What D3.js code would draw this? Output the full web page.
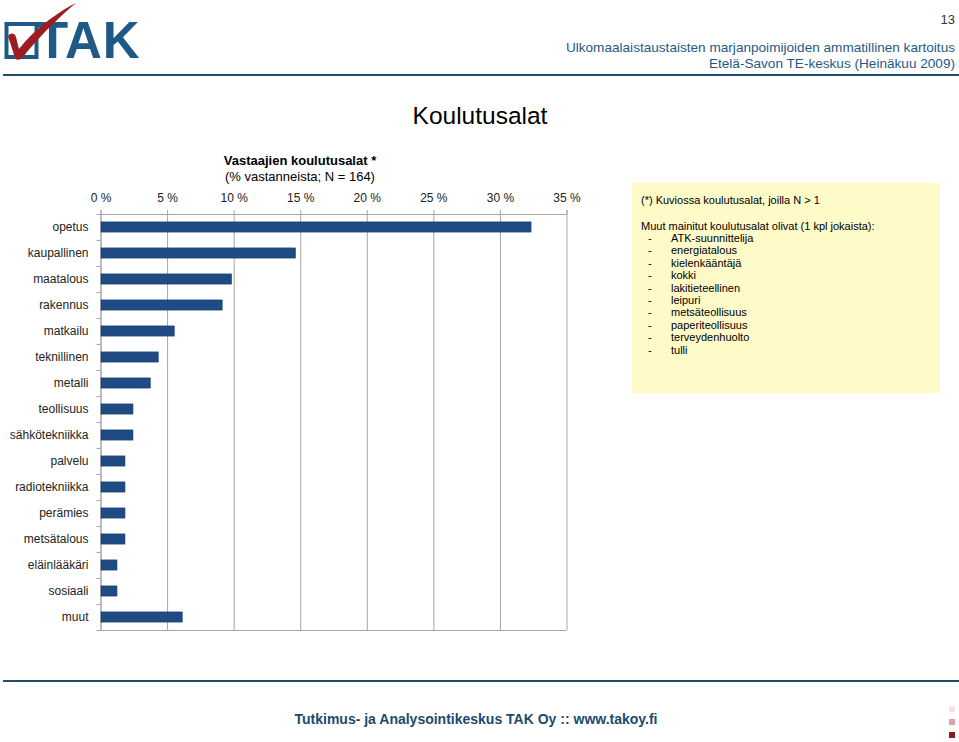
<!DOCTYPE html>
<html>
<head>
<meta charset="utf-8">
<script src="https://cdn.jsdelivr.net/npm/d3@7/dist/d3.min.js"></script>
<style>
  html, body { margin: 0; padding: 0; background: #fff; }
  svg { display: block; font-family: "Liberation Sans", Arial, sans-serif; }
</style>
</head>
<body>
<svg id="chart" width="959" height="742"></svg>
<script>
// ---- data ----
const categories = ["opetus","kaupallinen","maatalous","rakennus","matkailu","teknillinen","metalli","teollisuus","sähkötekniikka","palvelu","radiotekniikka","perämies","metsätalous","eläinlääkäri","sosiaali","muut"];
const values = [32.3, 14.6, 9.8, 9.1, 5.5, 4.3, 3.7, 2.4, 2.4, 1.8, 1.8, 1.8, 1.8, 1.2, 1.2, 6.1];
const tickValues = [0, 5, 10, 15, 20, 25, 30, 35];
const noteLines = ["ATK-suunnittelija","energiatalous","kielenkääntäjä","kokki","lakitieteellinen","leipuri","metsäteollisuus","paperiteollisuus","terveydenhuolto","tulli"];

const svg = d3.select("#chart");
const blue = "#1f5a87";

// ---- header ----
// logo
const logo = svg.append("g");
logo.append("rect").attr("x", 6.5).attr("y", 24).attr("width", 30).attr("height", 33)
  .attr("fill", "none").attr("stroke", blue).attr("stroke-width", 4);
logo.append("text").attr("x", 37).attr("y", 58).attr("font-size", 51).attr("font-weight", "bold")
  .attr("fill", blue).attr("letter-spacing", -0.5).attr("textLength", 102).text("TAK");
logo.append("path")
  .attr("d", "M8,36 C11,32 15,33 16,37 L19,49 C32,32 52,16 72,5 L76,3 C58,18 38,38 23,57 C21,60 17,61 15,58 Z")
  .attr("fill", "#9e1b1f");

svg.append("text").attr("x", 955).attr("y", 24).attr("text-anchor", "end")
  .attr("font-size", 13).attr("fill", "#333").text("13");
svg.append("text").attr("x", 955).attr("y", 52).attr("text-anchor", "end")
  .attr("font-size", 13.6).attr("fill", blue).text("Ulkomaalaistaustaisten marjanpoimijoiden ammatillinen kartoitus");
svg.append("text").attr("x", 955).attr("y", 68).attr("text-anchor", "end")
  .attr("font-size", 13.6).attr("fill", blue).text("Etelä-Savon TE-keskus (Heinäkuu 2009)");
svg.append("rect").attr("x", 3).attr("y", 74).attr("width", 956).attr("height", 2).attr("fill", "#1d4f6c");

// ---- titles ----
svg.append("text").attr("x", 480).attr("y", 124).attr("text-anchor", "middle")
  .attr("font-size", 24.5).attr("fill", "#000").text("Koulutusalat");
svg.append("text").attr("x", 300).attr("y", 165).attr("text-anchor", "middle")
  .attr("font-size", 13).attr("font-weight", "bold").attr("fill", "#000").text("Vastaajien koulutusalat *");
svg.append("text").attr("x", 300).attr("y", 181).attr("text-anchor", "middle")
  .attr("font-size", 13).attr("fill", "#000").text("(% vastanneista; N = 164)");

// ---- chart ----
const pLeft = 100.5, pRight = 566.5, pTop = 214, pBottom = 630;
const x = d3.scaleLinear().domain([0, 35]).range([pLeft, pRight]);
const y = d3.scaleBand().domain(categories).range([pTop, pBottom]).paddingInner(0.61).paddingOuter(0.305);

// gridlines
svg.append("g").attr("transform", `translate(0,${pTop})`)
  .call(d3.axisTop(x).tickValues(tickValues).tickSize(-(pBottom - pTop)).tickFormat(""))
  .call(g => g.select(".domain").remove())
  .call(g => g.selectAll("line").attr("stroke", "#a6a6a6"));

// top axis
svg.append("g").attr("transform", `translate(0,${pTop})`)
  .call(d3.axisTop(x).tickValues(tickValues).tickSize(4).tickPadding(8).tickFormat(d => d + " %"))
  .call(g => g.select(".domain").attr("stroke", "#a6a6a6"))
  .call(g => g.selectAll("line").attr("stroke", "#a6a6a6"))
  .call(g => g.selectAll("text").attr("font-size", 12).attr("fill", "#222")
    .attr("font-family", "'Liberation Sans', Arial, sans-serif"));

// bottom line
svg.append("line").attr("x1", pLeft).attr("x2", pRight).attr("y1", pBottom + 0.5).attr("y2", pBottom + 0.5)
  .attr("stroke", "#a6a6a6");

// left axis labels
svg.append("g").attr("transform", `translate(${pLeft},0)`)
  .call(d3.axisLeft(y).tickSize(0).tickPadding(12))
  .call(g => g.select(".domain").attr("stroke", "#a6a6a6"))
  .call(g => g.selectAll("text").attr("font-size", 12).attr("fill", "#222")
    .attr("font-family", "'Liberation Sans', Arial, sans-serif"));

// boundary tick marks
const boundaries = categories.map(c => y(c) - y.step() * y.paddingOuter()).concat([pBottom]);
svg.append("g").selectAll("line").data(boundaries).join("line")
  .attr("x1", pLeft - 4).attr("x2", pLeft)
  .attr("y1", d => Math.round(d) + 0.5).attr("y2", d => Math.round(d) + 0.5)
  .attr("stroke", "#a6a6a6");

// bars
svg.append("g").selectAll("rect").data(categories).join("rect")
  .attr("x", x(0) + 0.5)
  .attr("y", d => y(d))
  .attr("width", (d, i) => x(values[i]) - x(0))
  .attr("height", y.bandwidth())
  .attr("fill", "#1f4b85")
  .attr("stroke", "#173a68").attr("stroke-width", 0.6);

// ---- note box ----
svg.append("rect").attr("x", 632).attr("y", 183).attr("width", 308).attr("height", 210).attr("fill", "#fffbc9");
const note = svg.append("g").attr("font-size", 11).attr("fill", "#000");
note.append("text").attr("x", 641).attr("y", 204).text("(*) Kuviossa koulutusalat, joilla N > 1");
note.append("text").attr("x", 641).attr("y", 230).text("Muut mainitut koulutusalat olivat (1 kpl jokaista):");
noteLines.forEach((t, i) => {
  note.append("text").attr("x", 648).attr("y", 242 + i * 12.4).text("-");
  note.append("text").attr("x", 671).attr("y", 242 + i * 12.4).text(t);
});

// ---- footer ----
svg.append("rect").attr("x", 3).attr("y", 680).attr("width", 956).attr("height", 2).attr("fill", "#1d4f6c");
svg.append("text").attr("x", 476).attr("y", 724).attr("text-anchor", "middle")
  .attr("font-size", 14).attr("font-weight", "bold").attr("fill", "#1c4a6e")
  .text("Tutkimus- ja Analysointikeskus TAK Oy :: www.takoy.fi");
[["#f3e3e6", 706], ["#d9a3ab", 719], ["#8e1b24", 732]].forEach(([c, yy]) => {
  svg.append("rect").attr("x", 949).attr("y", yy).attr("width", 6).attr("height", 6).attr("fill", c);
});
</script>
</body>
</html>
